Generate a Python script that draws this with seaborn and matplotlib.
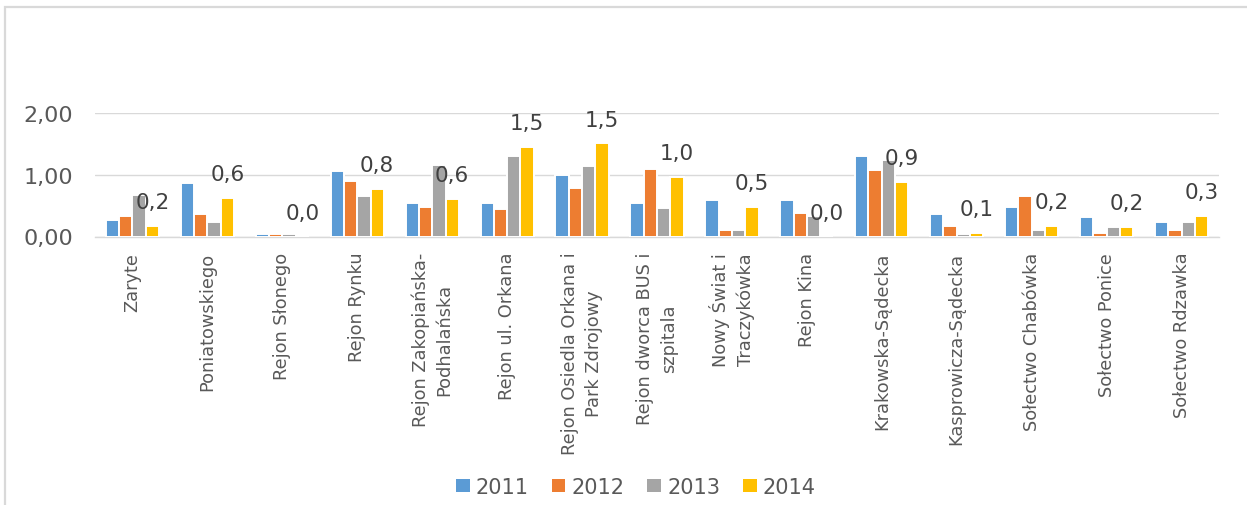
import matplotlib
matplotlib.use("Agg")
import matplotlib.pyplot as plt
from matplotlib.patches import Rectangle, Patch
import seaborn as sns
import pandas as pd

categories = [
    "Zaryte", "Poniatowskiego", "Rejon Słonego", "Rejon Rynku",
    "Rejon Zakopiańska-\nPodhalańska", "Rejon ul. Orkana",
    "Rejon Osiedla Orkana i\nPark Zdrojowy", "Rejon dworca BUS i\nszpitala",
    "Nowy Świat i\nTraczykówka", "Rejon Kina", "Krakowska-Sądecka",
    "Kasprowicza-Sądecka", "Sołectwo Chabówka", "Sołectwo Ponice",
    "Sołectwo Rdzawka",
]
years = ["2011", "2012", "2013", "2014"]
v2011 = [0.26, 0.87, 0.04, 1.07, 0.545, 0.545, 1.00, 0.545, 0.59, 0.60, 1.30, 0.37, 0.48, 0.31, 0.24]
v2012 = [0.34, 0.37, 0.04, 0.90, 0.48, 0.44, 0.78, 1.09, 0.11, 0.385, 1.08, 0.17, 0.65, 0.06, 0.11]
v2013 = [0.68, 0.24, 0.04, 0.65, 1.16, 1.31, 1.14, 0.46, 0.11, 0.34, 1.25, 0.04, 0.10, 0.15, 0.24]
v2014 = [0.17, 0.63, 0.00, 0.77, 0.61, 1.46, 1.51, 0.96, 0.48, 0.00, 0.88, 0.055, 0.17, 0.16, 0.33]
colors = ["#5B9BD5", "#ED7D31", "#A5A5A5", "#FFC000"]
yticks = [0, 1, 2]
ytick_labels = ["0,00", "1,00", "2,00"]

series = [v2011, v2012, v2013, v2014]
rows = []
for y, vals in zip(years, series):
    for c, v in zip(categories, vals):
        rows.append({"cat": c, "year": y, "val": v})
df = pd.DataFrame(rows)

sns.set_theme(style="white")
plt.rcParams['font.family'] = ['DejaVu Sans']

W, H = 1247, 506
fig = plt.figure(figsize=(W / 100, H / 100), dpi=100)
fig.patch.set_facecolor("white")

# outer chart frame
fig.patches.append(Rectangle((5 / W, -0.1), 1.2, 1.1 - 8 / H, transform=fig.transFigure,
                             fill=False, edgecolor="#D9D9D9", linewidth=1.6))

ax = fig.add_axes([95 / W, (H - 237.5) / H, 1124 / W, (237.5 - 114.3) / H])
sns.barplot(data=df, x="cat", y="val", hue="year", order=categories, hue_order=years,
            palette=colors, width=0.71, edgecolor="white", linewidth=1.4,
            saturation=1, legend=False, ax=ax, zorder=3)

ax.set_ylim(0, 2)
ax.set_xlim(-0.5, len(categories) - 0.5)
ax.set_yticks(yticks)
ax.set_yticklabels(ytick_labels)
ax.yaxis.grid(True, color="#D9D9D9", linewidth=1.0, zorder=0)
ax.set_axisbelow(True)
for s in ["top", "right", "left"]:
    ax.spines[s].set_visible(False)
ax.spines["bottom"].set_color("#D9D9D9")
ax.spines["bottom"].set_linewidth(1.0)
ax.tick_params(axis="y", length=0, pad=15.5, labelsize=16, labelcolor="#595959")
ax.tick_params(axis="x", length=0, pad=11, labelsize=12.8, labelcolor="#595959")
ax.set_xlabel("")
ax.set_ylabel("")
for lab in ax.get_xticklabels():
    lab.set_rotation(90)
    lab.set_ha("center")
    lab.set_va("top")
    lab.set_multialignment("center")
    lab.set_linespacing(1.4)

# data labels for 2014 series
labels14 = [f"{v:.1f}".replace(".", ",") for v in v2014]
ax.bar_label(ax.containers[3], labels=labels14, padding=10, fontsize=15.5,
             color="#404040", clip_on=False, zorder=5)

handles = [Patch(facecolor=c, edgecolor="none") for c in colors]
fig.legend(handles, years, loc="center", bbox_to_anchor=(636 / W, (H - 488) / H),
           ncol=4, frameon=False, fontsize=15, labelcolor="#595959",
           handlelength=0.65, handleheight=0.6, handletextpad=0.3,
           columnspacing=1.1, borderaxespad=0)

fig.savefig("out.png", dpi=100, facecolor="white")
